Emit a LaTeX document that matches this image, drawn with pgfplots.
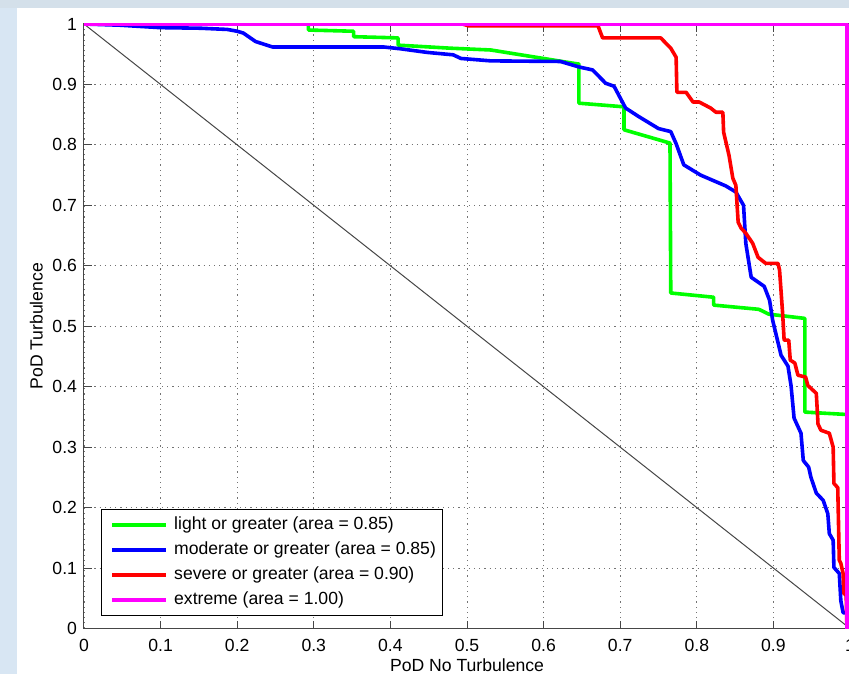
\documentclass[border=0pt]{standalone}
\usepackage{fontspec}
\setmainfont{Liberation Sans}
\usepackage{pgfplots}
\pgfplotsset{compat=1.18}
\definecolor{bgblue}{RGB}{216,230,243}
\definecolor{bgtop}{RGB}{212,224,234}
\definecolor{axgray}{RGB}{70,70,70}
\definecolor{cgreen}{RGB}{0,255,0}
\definecolor{cblue}{RGB}{0,0,255}
\definecolor{cred}{RGB}{255,0,0}
\definecolor{cmag}{RGB}{255,0,255}
\newcommand{\fs}{\fontsize{8.8}{10.5}\selectfont}

\begin{document}
\begin{tikzpicture}
\path[use as bounding box] (-42pt,-22.75pt) rectangle (382.5pt,314.25pt);
\clip (-42pt,-22.75pt) rectangle (382.5pt,314.25pt);
\fill[white] (-42pt,-22.75pt) rectangle (382.5pt,314.25pt);
\fill[bgblue] (-42pt,-22.75pt) rectangle (-33.5pt,314.25pt);
\fill[bgtop] (-42pt,310.25pt) rectangle (382.5pt,314.25pt);
\begin{axis}[
  scale only axis, width=383pt, height=302.25pt,
  xmin=0, xmax=1, ymin=0, ymax=1,
  xtick={0,0.1,0.2,0.3,0.4,0.5,0.6,0.7,0.8,0.9,1},
  ytick={0,0.1,0.2,0.3,0.4,0.5,0.6,0.7,0.8,0.9,1},
  tick align=inside, major tick length=4pt,
  axis line style={axgray, line width=0.5pt},
  every tick/.style={axgray, line width=0.5pt},
  grid=major,
  major grid style={black!55, line width=0.45pt, dash pattern=on 0.6pt off 2pt},
  tick label style={font=\fs, /pgf/number format/assume math mode=true},
  xticklabel style={yshift=-2pt},
  /pgf/number format/fixed,
  xlabel={PoD No Turbulence}, ylabel={PoD Turbulence},
  label style={font=\fs},
  xlabel style={at={(axis description cs:0.5,-0.0719)}, anchor=base},
  ylabel style={at={(axis description cs:-0.054,0.5)}, anchor=base},
  legend style={at={(0.0218,0.0207)}, anchor=south west, font=\fs,
    draw=black, line width=0.5pt, inner xsep=3.2pt, inner ysep=3.7pt,
    row sep=4.3pt, column sep=3pt,
    nodes={inner sep=0pt, text height=6.4pt, text depth=1.8pt}},
  legend cell align=left,
  legend image code/.code={\path (0pt,0pt); \draw[#1] (1.5pt,0pt) -- (28.5pt,0pt);},
  every axis plot/.append style={line join=round},
]
\addplot[axgray, line width=0.5pt, forget plot] coordinates {(0,1) (1,0)};

\addplot[cgreen, line width=1.8pt] coordinates {
(0,1) (0.293,1) (0.293,0.990) (0.352,0.988) (0.352,0.979) (0.410,0.977)
(0.410,0.965) (0.478,0.960) (0.531,0.957) (0.644,0.934) (0.646,0.934)
(0.646,0.869) (0.705,0.863) (0.705,0.825) (0.765,0.803) (0.766,0.555)
(0.822,0.548) (0.822,0.535) (0.881,0.528) (0.894,0.520) (0.941,0.513)
(0.941,0.358) (0.996,0.354) (0.996,0)
};
\addlegendentry{light or greater (area = 0.85)}

\addplot[cblue, line width=1.8pt] coordinates {
(0,1) (0.047,0.998) (0.099,0.994) (0.152,0.993) (0.187,0.991) (0.200,0.988)
(0.208,0.985) (0.224,0.971) (0.246,0.962) (0.391,0.962) (0.413,0.959)
(0.448,0.953) (0.482,0.949) (0.492,0.943) (0.531,0.939) (0.622,0.938)
(0.646,0.929) (0.664,0.924) (0.681,0.902) (0.692,0.897) (0.707,0.861)
(0.724,0.847) (0.750,0.827) (0.766,0.822) (0.773,0.802) (0.783,0.767)
(0.805,0.750) (0.838,0.732) (0.851,0.722) (0.861,0.700) (0.864,0.637)
(0.871,0.581) (0.888,0.566) (0.895,0.543) (0.899,0.510) (0.910,0.452)
(0.919,0.434) (0.923,0.402) (0.927,0.348) (0.936,0.323) (0.939,0.278)
(0.946,0.267) (0.949,0.250) (0.956,0.224) (0.965,0.212) (0.971,0.190)
(0.973,0.157) (0.978,0.146) (0.979,0.101) (0.986,0.091) (0.988,0.046)
(0.991,0.026) (0.996,0.026) (0.996,0)
};
\addlegendentry{moderate or greater (area = 0.85)}

\addplot[cred, line width=1.8pt] coordinates {
(0,1) (0.494,1) (0.502,0.997) (0.671,0.997) (0.677,0.977) (0.753,0.977)
(0.759,0.969) (0.766,0.960) (0.773,0.945) (0.774,0.887) (0.786,0.887)
(0.795,0.871) (0.803,0.871) (0.818,0.861) (0.825,0.854) (0.834,0.854)
(0.835,0.821) (0.842,0.783) (0.847,0.745) (0.851,0.733) (0.854,0.672)
(0.858,0.662) (0.864,0.654) (0.873,0.637) (0.880,0.614) (0.890,0.604)
(0.906,0.604) (0.908,0.593) (0.912,0.522) (0.914,0.477) (0.920,0.477)
(0.922,0.444) (0.928,0.439) (0.932,0.419) (0.942,0.416) (0.945,0.402)
(0.956,0.389) (0.958,0.344) (0.958,0.339) (0.962,0.328) (0.973,0.323)
(0.978,0.300) (0.979,0.240) (0.984,0.233) (0.986,0.113) (0.988,0.108)
(0.991,0.091) (0.992,0.058) (0.995,0.055) (0.996,0)
};
\addlegendentry{severe or greater (area = 0.90)}

\addplot[cmag, line width=1.8pt] coordinates {
(0,1) (0.996,1) (0.996,0)
};
\addlegendentry{extreme (area = 1.00)}
\end{axis}
\end{tikzpicture}
\end{document}
